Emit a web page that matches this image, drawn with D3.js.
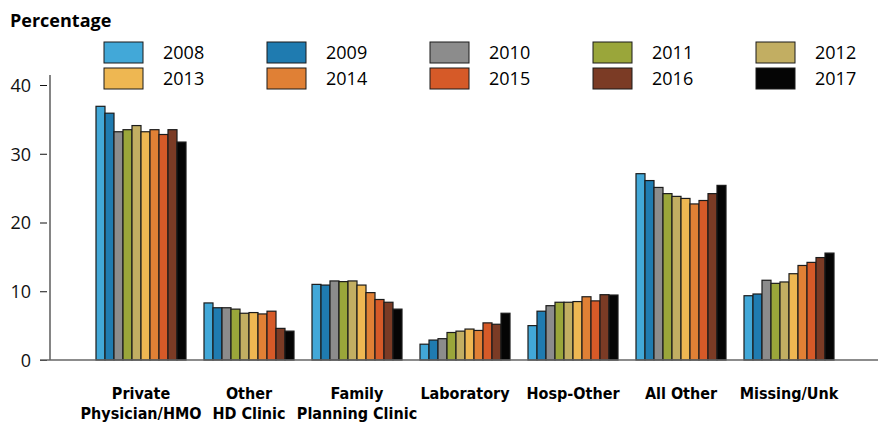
<!DOCTYPE html>
<html>
<head>
<meta charset="utf-8">
<script src="https://cdn.jsdelivr.net/npm/d3@7"></script>
<style>
  body { margin: 0; background: #fff; }
  svg { display: block; font-family: "Open Sans", "Noto Sans", sans-serif; }
</style>
</head>
<body>
<svg id="chart" width="879" height="426"></svg>
<script>
var categories = [["Private", "Physician/HMO"], ["Other", "HD Clinic"], ["Family", "Planning Clinic"],
    ["Laboratory"], ["Hosp-Other"], ["All Other"], ["Missing/Unk"]];
var years = ["2008", "2009", "2010", "2011", "2012", "2013", "2014", "2015", "2016", "2017"];
var colors = ["#42a8d8", "#1f7bb0", "#8c8c8c", "#9aa63a", "#c2ae62", "#eeb752", "#e08035", "#d65a28", "#7b3b25", "#050505"];
var yTicks = [0, 10, 20, 30, 40];

// one array per category, values by year 2008..2017
var privatePhysician = [36.9, 35.9, 33.2, 33.5, 34.1, 33.2, 33.5, 32.8, 33.5, 31.7];
var otherHD = [8.3, 7.6, 7.6, 7.4, 6.8, 6.9, 6.7, 7.1, 4.6, 4.2];
var familyPlanning = [11.0, 10.9, 11.5, 11.4, 11.5, 10.9, 9.8, 8.8, 8.4, 7.4];
var laboratory = [2.3, 2.9, 3.1, 4.0, 4.2, 4.5, 4.3, 5.4, 5.2, 6.8];
var hospOther = [5.0, 7.1, 7.9, 8.4, 8.4, 8.5, 9.2, 8.6, 9.5, 9.45];
var allOther = [27.1, 26.1, 25.1, 24.2, 23.8, 23.5, 22.7, 23.2, 24.2, 25.4];
var missingUnk = [9.35, 9.6, 11.6, 11.15, 11.35, 12.55, 13.75, 14.2, 14.9, 15.55];

var series = [privatePhysician, otherHD, familyPlanning, laboratory, hospOther, allOther, missingUnk];
var catKeys = categories.map(function (c) { return c.join(" "); });

var svg = d3.select("#chart");

var x0 = d3.scaleBand()
    .domain(catKeys)
    .range([87, 843])
    .paddingInner(1 / 6)
    .paddingOuter(1 / 12);

var x1 = d3.scaleBand()
    .domain(years)
    .range([0, x0.bandwidth()]);

var y = d3.scaleLinear()
    .domain([0, 40])
    .range([360, 85]);

var color = d3.scaleOrdinal().domain(years).range(colors);

/* title */
svg.append("text")
    .attr("x", 10)
    .attr("y", 27)
    .style("font-weight", "bold")
    .style("font-size", "18px")
    .text("Percentage");

/* y axis */
var yAxis = svg.append("g")
    .attr("transform", "translate(50,0)")
    .call(d3.axisLeft(y)
        .tickValues(yTicks)
        .tickSize(10)
        .tickPadding(9));
yAxis.select(".domain").remove();
yAxis.selectAll(".tick line").attr("stroke", "#111").attr("x2", -3).attr("x1", -10);
yAxis.selectAll(".tick text")
    .style("font-size", "18px")
    .style("font-family", "'Open Sans', sans-serif")
    .attr("fill", "#111")
    .attr("dy", "0.36em");

svg.append("line")
    .attr("x1", 50).attr("x2", 50)
    .attr("y1", 75).attr("y2", y(0))
    .attr("stroke", "#666")
    .attr("stroke-width", 1.6);

/* bars */
var groups = svg.selectAll(".group")
    .data(series)
    .enter().append("g")
    .attr("class", "group")
    .attr("transform", function (d, i) { return "translate(" + x0(catKeys[i]) + ",0)"; });

groups.selectAll("rect")
    .data(function (d) { return d.map(function (v, j) { return { year: years[j], value: v }; }); })
    .enter().append("rect")
    .attr("x", function (d) { return x1(d.year); })
    .attr("y", function (d) { return y(d.value); })
    .attr("width", x1.bandwidth())
    .attr("height", function (d) { return y(0) - y(d.value); })
    .attr("fill", function (d) { return color(d.year); })
    .attr("stroke", "#1b1b1b")
    .attr("stroke-width", 1.2);

/* x baseline */
svg.append("line")
    .attr("x1", 40).attr("x2", 878)
    .attr("y1", y(0)).attr("y2", y(0))
    .attr("stroke", "#666")
    .attr("stroke-width", 1.6);

/* category labels */
var labels = svg.selectAll(".cat")
    .data(categories)
    .enter().append("text")
    .attr("class", "cat")
    .attr("text-anchor", "middle")
    .attr("x", function (d, i) { return x0(catKeys[i]) + x0.bandwidth() / 2; })
    .attr("y", 399)
    .style("font-weight", "bold")
    .style("font-size", "16px")
    .style("font-family", "'Liberation Sans Narrow', 'DejaVu Sans Condensed', 'Open Sans', sans-serif");

labels.selectAll("tspan")
    .data(function (d) { return d; })
    .enter().append("tspan")
    .attr("x", function () { return d3.select(this.parentNode).attr("x"); })
    .attr("dy", function (d, i) { return i === 0 ? 0 : 20; })
    .text(function (d) { return d; });

/* legend */
var legend = svg.selectAll(".legend")
    .data(years)
    .enter().append("g")
    .attr("class", "legend")
    .attr("transform", function (d, i) {
        return "translate(" + (104 + (i % 5) * 163) + "," + (42 + Math.floor(i / 5) * 26) + ")";
    });

legend.append("rect")
    .attr("width", 39)
    .attr("height", 21)
    .attr("fill", function (d) { return color(d); })
    .attr("stroke", "#1b1b1b")
    .attr("stroke-width", 1);

legend.append("text")
    .attr("x", 59)
    .attr("y", 11)
    .attr("dy", "0.36em")
    .style("font-size", "18px")
    .text(function (d) { return d; });
</script>
</body>
</html>
